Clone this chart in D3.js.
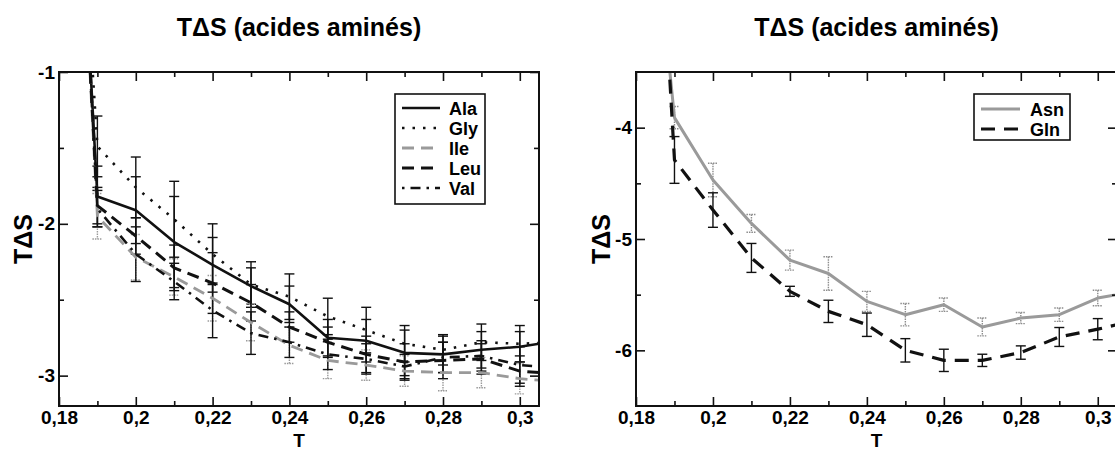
<!DOCTYPE html>
<html><head><meta charset="utf-8">
<script src="https://cdn.jsdelivr.net/npm/d3@7"></script>
<style>
body{margin:0;background:#fff}
text{font-family:"Liberation Sans",Arial,Helvetica,sans-serif;font-weight:bold;fill:#000}
</style>
</head><body>
<svg id="c" width="1115" height="452"></svg>
<script>
// ---------- data ----------
const temps = [0.185,0.19,0.20,0.21,0.22,0.23,0.24,0.25,0.26,0.27,0.28,0.29,0.30,0.31];

const alaVals = [0.5,-1.82,-1.91,-2.12,-2.27,-2.41,-2.53,-2.75,-2.77,-2.85,-2.86,-2.83,-2.81,-2.77];
const alaErr  = [null,0.2,0.22,0.3,0.18,0.12,0.12,0.12,0.14,0.15,0.12,0.12,0.1,null];
const glyVals = [0.5,-1.49,-1.76,-1.97,-2.20,-2.40,-2.48,-2.61,-2.70,-2.79,-2.83,-2.78,-2.79,-2.78];
const glyErr  = [null,0.2,0.2,0.25,0.2,0.15,0.15,0.12,0.15,0.12,0.1,0.12,0.12,null];
const ileVals = [0.5,-1.95,-2.22,-2.35,-2.49,-2.65,-2.80,-2.90,-2.93,-2.97,-2.98,-2.98,-3.02,-3.04];
const ileErr  = [null,0.15,0.15,0.12,0.15,0.12,0.12,0.12,0.1,0.1,0.12,0.1,0.1,null];
const leuVals = [0.5,-1.88,-2.08,-2.29,-2.39,-2.52,-2.68,-2.78,-2.86,-2.91,-2.90,-2.89,-2.97,-2.99];
const leuErr  = [null,0.12,0.12,0.15,0.2,0.12,0.1,0.1,0.12,0.12,0.12,0.1,0.1,null];
const valVals = [0.5,-1.90,-2.20,-2.38,-2.57,-2.72,-2.78,-2.86,-2.89,-2.94,-2.88,-2.87,-2.93,-2.95];
const valErr  = [null,0.12,0.18,0.12,0.18,0.14,0.1,0.1,0.1,0.08,0.1,0.1,0.12,null];

const asnVals = [-2.2,-3.91,-4.47,-4.86,-5.19,-5.31,-5.56,-5.68,-5.59,-5.79,-5.71,-5.68,-5.53,-5.47];
const asnErr  = [null,0.1,0.15,0.08,0.09,0.15,0.09,0.1,0.06,0.08,0.05,0.06,0.07,null];
const glnVals = [-1.3,-4.29,-4.74,-5.17,-5.47,-5.65,-5.77,-6.0,-6.09,-6.09,-6.02,-5.88,-5.81,-5.73];
const glnErr  = [null,0.21,0.155,0.13,0.045,0.10,0.105,0.105,0.10,0.055,0.06,0.085,0.095,null];

const leftNames  = ["Ala","Gly","Ile","Leu","Val"];
const rightNames = ["Asn","Gln"];

const xTicks = [0.18,0.2,0.22,0.24,0.26,0.28,0.3];
const xTickLabels = ["0,18","0,2","0,22","0,24","0,26","0,28","0,3"];
const xMinor = [0.19,0.21,0.23,0.25,0.27,0.29];
const leftYTicks = [-1,-2,-3];
const leftYLabels = ["-1","-2","-3"];
const leftYMinor = [-1.5,-2.5];
const rightYTicks = [-4,-5,-6];
const rightYLabels = ["-4","-5","-6"];
const rightYMinor = [-4.5,-5.5];
const panelTitle = "TΔS (acides aminés)";
const yTitle = "TΔS";
const xTitle = "T";

// ---------- styles ----------
const styles = {
  Ala:{stroke:"#111",width:2.6,dash:null,err:"#111",errDash:null},
  Gly:{stroke:"#111",width:2.6,dash:"2.5,8",err:"#111",errDash:null},
  Ile:{stroke:"#9a9a9a",width:2.8,dash:"12,7",err:"#9a9a9a",errDash:"1.5,1"},
  Leu:{stroke:"#111",width:3,dash:"12,7",err:"#111",errDash:null},
  Val:{stroke:"#111",width:2.6,dash:"2.5,6,10,6",err:"#111",errDash:null},
  Asn:{stroke:"#9a9a9a",width:3,dash:null,err:"#8c8c8c",errDash:"1.5,1"},
  Gln:{stroke:"#111",width:3.2,dash:"14,9",err:"#111",errDash:null}
};

const svg = d3.select("#c");

function panel(cfg){
  const x = d3.scaleLinear().domain([0.18,0.305]).range([cfg.left,cfg.right]);
  const y = d3.scaleLinear().domain(cfg.yDomain).range([406,72]);
  const g = svg.append("g");
  const clipId = "clip"+cfg.id;
  g.append("clipPath").attr("id",clipId).append("rect")
    .attr("x",cfg.left).attr("y",72).attr("width",cfg.right-cfg.left).attr("height",334);

  const plot = g.append("g").attr("clip-path",`url(#${clipId})`);
  // error bars
  cfg.series.forEach(s=>{
    const st = styles[s.name];
    const pts = temps.map((t,i)=>({t,v:s.vals[i],e:s.errs[i]})).filter(d=>d.e!=null);
    const eb = plot.append("g").attr("stroke",st.err).attr("stroke-width",1.4).attr("fill","none");
    if(st.errDash) eb.attr("stroke-dasharray",st.errDash);
    pts.forEach(d=>{
      const xx=x(d.t), y1=y(d.v+d.e), y2=y(d.v-d.e);
      eb.append("line").attr("x1",xx).attr("x2",xx).attr("y1",y1).attr("y2",y2);
      eb.append("line").attr("x1",xx-5).attr("x2",xx+5).attr("y1",y1).attr("y2",y1);
      eb.append("line").attr("x1",xx-5).attr("x2",xx+5).attr("y1",y2).attr("y2",y2);
    });
  });
  // lines
  const line = d3.line().x((d,i)=>x(temps[i])).y(d=>y(d));
  cfg.series.forEach(s=>{
    const st = styles[s.name];
    const p = plot.append("path").datum(s.vals).attr("d",line)
      .attr("fill","none").attr("stroke",st.stroke).attr("stroke-width",st.width)
      .attr("stroke-linejoin","round");
    if(st.dash) p.attr("stroke-dasharray",st.dash);
  });

  // axes
  const fmtX = v => xTickLabels[xTicks.findIndex(t=>Math.abs(t-v)<1e-9)];
  const fmtY = v => cfg.yLabels[cfg.yTicks.findIndex(t=>Math.abs(t-v)<1e-9)];
  g.append("g").attr("transform","translate(0,406)")
    .call(d3.axisBottom(x).tickValues(xTicks).tickSize(-9).tickPadding(5).tickFormat(fmtX));
  g.append("g").attr("transform","translate(0,406)")
    .call(d3.axisBottom(x).tickValues(xMinor).tickSize(-5).tickFormat(""));
  g.append("g").attr("transform","translate(0,72)")
    .call(d3.axisTop(x).tickValues(xTicks).tickSize(-9).tickFormat(""));
  g.append("g").attr("transform","translate(0,72)")
    .call(d3.axisTop(x).tickValues(xMinor).tickSize(-5).tickFormat(""));
  g.append("g").attr("transform",`translate(${cfg.left},0)`)
    .call(d3.axisLeft(y).tickValues(cfg.yTicks).tickSize(-9).tickPadding(4).tickFormat(fmtY));
  g.append("g").attr("transform",`translate(${cfg.left},0)`)
    .call(d3.axisLeft(y).tickValues(cfg.yMinor).tickSize(-5).tickFormat(""));
  g.append("g").attr("transform",`translate(${cfg.right},0)`)
    .call(d3.axisRight(y).tickValues(cfg.yTicks).tickSize(-9).tickFormat(""));
  g.append("g").attr("transform",`translate(${cfg.right},0)`)
    .call(d3.axisRight(y).tickValues(cfg.yMinor).tickSize(-5).tickFormat(""));
  g.selectAll(".domain").remove();
  g.selectAll(".tick line").attr("stroke","#111").attr("stroke-width",1.6);
  g.selectAll(".tick text").attr("font-size",19).attr("font-weight","bold")
    .attr("font-family",'"Liberation Sans",Arial,sans-serif').attr("fill","#000");
  g.append("rect").attr("x",cfg.left).attr("y",72).attr("width",cfg.right-cfg.left).attr("height",334)
    .attr("fill","none").attr("stroke","#111").attr("stroke-width",2);

  // titles
  const cx = (cfg.left+cfg.right)/2;
  g.append("text").attr("x",cx).attr("y",36).attr("text-anchor","middle").attr("font-size",25).text(panelTitle);
  g.append("text").attr("x",cx).attr("y",447).attr("text-anchor","middle").attr("font-size",19).text(xTitle);
  g.append("text").attr("transform",`translate(${cfg.yTitleX},239) rotate(-90)`)
    .attr("text-anchor","middle").attr("font-size",25).text(yTitle);

  // legend
  const L = cfg.legend;
  const lg = g.append("g");
  lg.append("rect").attr("x",L.x).attr("y",L.y).attr("width",L.w).attr("height",L.h)
    .attr("fill","#fff").attr("stroke","#111").attr("stroke-width",1.6);
  cfg.series.forEach((s,i)=>{
    const st = styles[s.name];
    const yy = L.y + L.first + i*L.step;
    const ln = lg.append("line").attr("x1",L.x+L.lx1).attr("x2",L.x+L.lx2).attr("y1",yy).attr("y2",yy)
      .attr("stroke",st.stroke).attr("stroke-width",st.width);
    if(st.dash) ln.attr("stroke-dasharray",st.dash);
    lg.append("text").attr("x",L.x+L.tx).attr("y",yy+6.5).attr("font-size",18).text(s.name);
  });
}

panel({
  id:"L", left:59, right:539, yDomain:[-3.2,-1], yTicks:leftYTicks, yLabels:leftYLabels, yMinor:leftYMinor, yTitleX:32,
  series:[
    {name:leftNames[0],vals:alaVals,errs:alaErr},
    {name:leftNames[1],vals:glyVals,errs:glyErr},
    {name:leftNames[2],vals:ileVals,errs:ileErr},
    {name:leftNames[3],vals:leuVals,errs:leuErr},
    {name:leftNames[4],vals:valVals,errs:valErr}
  ],
  legend:{x:395,y:94,w:90,h:110,first:14,step:20,lx1:7,lx2:45,tx:54}
});
panel({
  id:"R", left:636, right:1117, yDomain:[-6.5,-3.5], yTicks:rightYTicks, yLabels:rightYLabels, yMinor:rightYMinor, yTitleX:610,
  series:[
    {name:rightNames[0],vals:asnVals,errs:asnErr},
    {name:rightNames[1],vals:glnVals,errs:glnErr}
  ],
  legend:{x:974,y:94,w:96,h:46,first:15,step:20,lx1:7,lx2:46,tx:56}
});
</script>
</body></html>
